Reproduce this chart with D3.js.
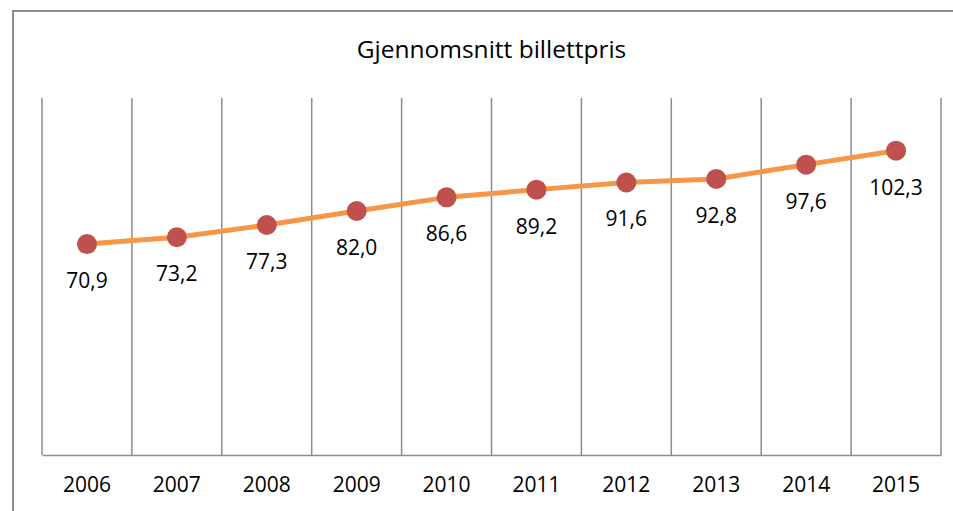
<!DOCTYPE html>
<html>
<head>
<meta charset="utf-8">
<script src="https://cdn.jsdelivr.net/npm/d3@7"></script>
<style>
  body { margin: 0; background: #fff; }
  text { font-family: 'Open Sans', sans-serif; fill: #000; }
</style>
</head>
<body>
<div id="chart"></div>
<script>
const years = ['2006', '2007', '2008', '2009', '2010', '2011', '2012', '2013', '2014', '2015'];
const prices = [70.9, 73.2, 77.3, 82.0, 86.6, 89.2, 91.6, 92.8, 97.6, 102.3];
const title = 'Gjennomsnitt billettpris';

const w = 953;
const h = 511;
const plot = { left: 42, right: 941, top: 98, bottom: 455 };

const svg = d3.select('#chart')
  .append('svg')
  .attr('width', w)
  .attr('height', h);

// outer chart border (cut by the picture on the right and bottom)
svg.append('rect')
  .attr('x', 13)
  .attr('y', 11)
  .attr('width', w + 20)
  .attr('height', h + 20)
  .attr('fill', 'none')
  .attr('stroke', '#8c8c8c')
  .attr('stroke-width', 2);

svg.append('text')
  .attr('x', (plot.left + plot.right) / 2)
  .attr('y', 58)
  .attr('text-anchor', 'middle')
  .style('font-size', '24.5px')
  .text(title);

// SCALES ----------------------
const xScale = d3.scaleBand()
  .domain(years)
  .range([plot.left, plot.right]);

const yScale = d3.scaleLinear()
  .domain([0, 120])
  .range([plot.bottom, plot.top]);

// vertical gridlines at category boundaries
const bounds = years.map((d) => xScale(d)).concat([plot.right]);
svg.append('g')
  .selectAll('line')
  .data(bounds)
  .enter()
  .append('line')
  .attr('x1', (d) => d)
  .attr('x2', (d) => d)
  .attr('y1', plot.top)
  .attr('y2', plot.bottom)
  .attr('stroke', '#8c8c8c')
  .attr('stroke-width', 1.5);

// x axis
const gXAxis = svg.append('g')
  .attr('transform', `translate(0, ${plot.bottom})`)
  .call(d3.axisBottom(xScale).tickSize(0).tickPadding(22));
gXAxis.select('.domain')
  .attr('stroke', '#8c8c8c')
  .attr('stroke-width', 1.5);
gXAxis.selectAll('text')
  .style('font-size', '21px')
  .style('font-family', "'Open Sans', sans-serif")
  .attr('fill', '#000');

// LINE ------------------------
const data = years.map((y, i) => ({ year: y, value: prices[i] }));
const cx = (d) => xScale(d.year) + xScale.bandwidth() / 2;

svg.append('path')
  .datum(data)
  .attr('fill', 'none')
  .attr('stroke', '#f79646')
  .attr('stroke-width', 5)
  .attr('stroke-linejoin', 'round')
  .attr('d', d3.line().x(cx).y((d) => yScale(d.value)));

svg.append('g')
  .selectAll('circle')
  .data(data)
  .enter()
  .append('circle')
  .attr('cx', cx)
  .attr('cy', (d) => yScale(d.value))
  .attr('r', 10)
  .attr('fill', '#c0504d');

svg.append('g')
  .selectAll('text')
  .data(data)
  .enter()
  .append('text')
  .attr('x', cx)
  .attr('y', (d) => yScale(d.value) + 44)
  .attr('text-anchor', 'middle')
  .style('font-size', '21px')
  .text((d) => d.value.toFixed(1).replace('.', ','));
</script>
</body>
</html>
